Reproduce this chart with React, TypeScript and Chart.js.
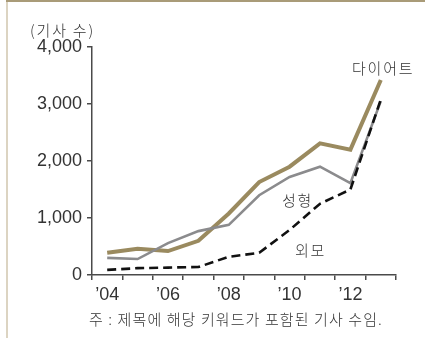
import React, { useEffect, useRef } from "react";
import { Chart, registerables } from "chart.js";

Chart.register(...registerables);

// 연도 (2004–2013)
const years = ["’04", "’05", "’06", "’07", "’08", "’09", "’10", "’11", "’12", "’13"];
// 제목에 키워드가 포함된 기사 수
const dietCounts = [390, 460, 420, 600, 1080, 1630, 1900, 2310, 2200, 3420];
const surgeryCounts = [300, 280, 560, 770, 880, 1400, 1720, 1900, 1610, 3050];
const looksCounts = [90, 120, 130, 140, 320, 390, 790, 1250, 1500, 3080];
const yTicks = [0, 1000, 2000, 3000, 4000];

const KR_FONT = '"Noto Sans CJK KR", "Noto Sans", sans-serif';
const NUM_FONT = '"Liberation Sans", Arial, sans-serif';
const AXIS_COLOR = "#4a4a4a";
const TEXT_COLOR = "#333333";

const labelsPlugin = {
  id: "seriesLabels",
  afterDraw(chart: any) {
    const ctx = chart.ctx;
    ctx.save();
    ctx.fillStyle = TEXT_COLOR;
    ctx.textBaseline = "middle";
    ctx.textAlign = "left";
    ctx.font = `300 15px ${KR_FONT}`;
    ctx.letterSpacing = "1.8px";
    ctx.fillText("(기사 수)", 30, 30);
    ctx.fillText("다이어트", 352, 68);
    ctx.fillText("성형", 282, 200);
    ctx.fillText("외모", 295, 250);
    ctx.letterSpacing = "1.1px";
    ctx.fillText("주 : 제목에 해당 키워드가 포함된 기사 수임.", 89, 319);
    ctx.restore();
  },
};

const framePlugin = {
  id: "frame",
  beforeDraw(chart: any) {
    const ctx = chart.ctx;
    ctx.save();
    ctx.fillStyle = "#ffffff";
    ctx.fillRect(0, 0, chart.width, chart.height);
    ctx.fillStyle = "#dcd4c2";
    ctx.fillRect(6, 0, 2, chart.height);
    ctx.fillStyle = "#a99b78";
    ctx.fillRect(6, 0, chart.width - 6, 2);
    ctx.restore();
  },
};

export default function App() {
  const canvasRef = useRef<HTMLCanvasElement | null>(null);

  useEffect(() => {
    if (!canvasRef.current) return;
    const chart = new Chart(canvasRef.current, {
      type: "line",
      data: {
        labels: years,
        datasets: [
          {
            label: "외모",
            data: looksCounts,
            borderColor: "#111111",
            borderWidth: 2.6,
            borderDash: [9, 5],
            pointRadius: 0,
            tension: 0,
            fill: false,
          },
          {
            label: "성형",
            data: surgeryCounts,
            borderColor: "#8b8b8d",
            borderWidth: 2.6,
            pointRadius: 0,
            tension: 0,
            fill: false,
          },
          {
            label: "다이어트",
            data: dietCounts,
            borderColor: "#9a8a5f",
            borderWidth: 4,
            pointRadius: 0,
            tension: 0,
            fill: false,
          },
        ],
      },
      options: {
        animation: false,
        responsive: false,
        devicePixelRatio: 1,
        layout: { padding: { top: 47, right: 29, left: 0, bottom: 0 } },
        plugins: {
          legend: { display: false },
          tooltip: { enabled: false },
        },
        scales: {
          x: {
            type: "category",
            offset: true,
            afterFit: (s: any) => {
              s.height = 63;
            },
            border: { display: true, color: AXIS_COLOR, width: 1.5 },
            grid: {
              offset: true,
              drawOnChartArea: false,
              drawTicks: true,
              tickLength: 5,
              color: AXIS_COLOR,
              lineWidth: 1.5,
            },
            ticks: {
              autoSkip: false,
              maxRotation: 0,
              padding: 4,
              color: TEXT_COLOR,
              font: { family: NUM_FONT, size: 18 },
              callback: (_v: any, i: number) => (i % 2 === 0 ? years[i] : ""),
            },
          },
          y: {
            min: yTicks[0],
            max: yTicks[yTicks.length - 1],
            afterFit: (s: any) => {
              s.width = 92;
            },
            afterBuildTicks: (s: any) => {
              s.ticks = yTicks.map((v) => ({ value: v }));
            },
            border: { display: true, color: AXIS_COLOR, width: 1.5 },
            grid: {
              drawOnChartArea: false,
              drawTicks: true,
              tickLength: 5,
              color: AXIS_COLOR,
              lineWidth: 1.5,
            },
            ticks: {
              padding: 5,
              color: TEXT_COLOR,
              font: { family: NUM_FONT, size: 18 },
              callback: (v: any) => Number(v).toLocaleString("en-US"),
            },
          },
        },
      },
      plugins: [framePlugin, labelsPlugin],
    });
    return () => chart.destroy();
  }, []);

  return (
    <div style={{ position: "fixed", left: 0, top: 0, width: 425, height: 338, background: "#fff" }}>
      <canvas ref={canvasRef} width={425} height={338} style={{ width: 425, height: 338, display: "block" }} />
    </div>
  );
}
